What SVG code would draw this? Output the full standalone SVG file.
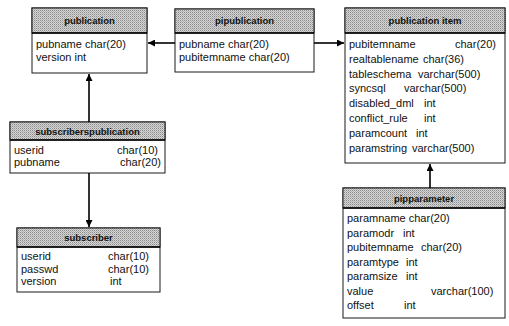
<svg xmlns="http://www.w3.org/2000/svg" width="509" height="326" viewBox="0 0 509 326">
<defs>
<pattern id="ht" width="2" height="2" patternUnits="userSpaceOnUse">
<rect width="2" height="2" fill="#d6d6d6"/>
<rect width="1" height="1" fill="#8a8a8a"/>
<rect x="1" y="1" width="1" height="1" fill="#b0b0b0"/>
</pattern>
<marker id="arr" viewBox="0 0 10 10" refX="10" refY="5" markerWidth="7" markerHeight="7" orient="auto" markerUnits="userSpaceOnUse">
<path d="M0,0 L10,5 L0,10 z" fill="#000"/>
</marker>
</defs>
<style>
.box{fill:#fff;stroke:#1a1a1a;stroke-width:1}
.hd{fill:url(#ht);stroke:#1a1a1a;stroke-width:1}
.hl{stroke:#000;stroke-width:1.6}
.ht{font-family:"Liberation Sans",Arial,sans-serif;font-size:9.5px;font-weight:bold;fill:#111;text-anchor:middle}
.t{font-family:"Liberation Sans",Arial,sans-serif;font-size:11px;fill:#111}
.c{stroke:#000;stroke-width:1.6;fill:none;marker-end:url(#arr)}
</style>
<rect width="509" height="326" fill="#fff"/>

<g id="publication">
<rect class="box" x="32" y="8" width="115" height="65"/>
<rect class="hd" x="32" y="8" width="115" height="25"/>
<line class="hl" x1="32" y1="33" x2="147" y2="33"/>
<text class="ht" x="89.5" y="24">publication</text>
<text class="t" x="36" y="48">pubname char(20)</text>
<text class="t" x="36" y="61">version int</text>
</g>

<g id="pipublication">
<rect class="box" x="175" y="9" width="139" height="63"/>
<rect class="hd" x="175" y="9" width="139" height="24"/>
<line class="hl" x1="175" y1="33" x2="314" y2="33"/>
<text class="ht" x="244.5" y="24">pipublication</text>
<text class="t" x="179" y="48">pubname char(20)</text>
<text class="t" x="179" y="61">pubitemname char(20)</text>
</g>

<g id="publication-item">
<rect class="box" x="345" y="8" width="160" height="155"/>
<rect class="hd" x="345" y="8" width="160" height="25"/>
<line class="hl" x1="345" y1="33" x2="505" y2="33"/>
<text class="ht" x="425" y="24">publication item</text>
<text class="t" x="349" y="48">pubitemname</text><text class="t" x="455" y="48">char(20)</text>
<text class="t" x="349" y="62.8">realtablename</text><text class="t" x="423" y="62.8">char(36)</text>
<text class="t" x="349" y="77.6">tableschema</text><text class="t" x="418" y="77.6">varchar(500)</text>
<text class="t" x="349" y="92.4">syncsql</text><text class="t" x="404" y="92.4">varchar(500)</text>
<text class="t" x="349" y="107.2">disabled_dml</text><text class="t" x="424" y="107.2">int</text>
<text class="t" x="349" y="122">conflict_rule</text><text class="t" x="424" y="122">int</text>
<text class="t" x="349" y="136.8">paramcount</text><text class="t" x="416" y="136.8">int</text>
<text class="t" x="349" y="151.6">paramstring</text><text class="t" x="412" y="151.6">varchar(500)</text>
</g>

<g id="pipparameter">
<rect class="box" x="343" y="188" width="162" height="130"/>
<rect class="hd" x="343" y="188" width="162" height="20"/>
<line class="hl" x1="343" y1="208" x2="505" y2="208"/>
<text class="ht" x="424" y="201.5">pipparameter</text>
<text class="t" x="347" y="222">paramname char(20)</text>
<text class="t" x="347" y="236.5">paramodr</text><text class="t" x="403" y="236.5">int</text>
<text class="t" x="347" y="251">pubitemname</text><text class="t" x="421" y="251">char(20)</text>
<text class="t" x="347" y="265.5">paramtype</text><text class="t" x="406" y="265.5">int</text>
<text class="t" x="347" y="280">paramsize</text><text class="t" x="406" y="280">int</text>
<text class="t" x="347" y="294.5">value</text><text class="t" x="431" y="294.5">varchar(100)</text>
<text class="t" x="347" y="309">offset</text><text class="t" x="404" y="309">int</text>
</g>

<g id="subscriberspublication">
<rect class="box" x="10" y="122" width="155" height="51"/>
<rect class="hd" x="10" y="122" width="155" height="18"/>
<line class="hl" x1="10" y1="140" x2="165" y2="140"/>
<text class="ht" x="87.5" y="134.5">subscriberspublication</text>
<text class="t" x="14" y="153.5">userid</text><text class="t" x="117" y="153.5">char(10)</text>
<text class="t" x="14" y="166">pubname</text><text class="t" x="120" y="166">char(20)</text>
</g>

<g id="subscriber">
<rect class="box" x="17" y="228" width="143" height="64"/>
<rect class="hd" x="17" y="228" width="143" height="19"/>
<line class="hl" x1="17" y1="247" x2="160" y2="247"/>
<text class="ht" x="88.5" y="241">subscriber</text>
<text class="t" x="21" y="260">userid</text><text class="t" x="108" y="260">char(10)</text>
<text class="t" x="21" y="272.5">passwd</text><text class="t" x="108" y="272.5">char(10)</text>
<text class="t" x="21" y="285">version</text><text class="t" x="110" y="285">int</text>
</g>

<g id="connectors">
<path class="c" d="M175,43 L148,43"/>
<path class="c" d="M314,43 L344,43"/>
<path class="c" d="M89,122 L89,74"/>
<path class="c" d="M89,173 L89,227"/>
<path class="c" d="M430,188 L430,164"/>
</g>
</svg>
